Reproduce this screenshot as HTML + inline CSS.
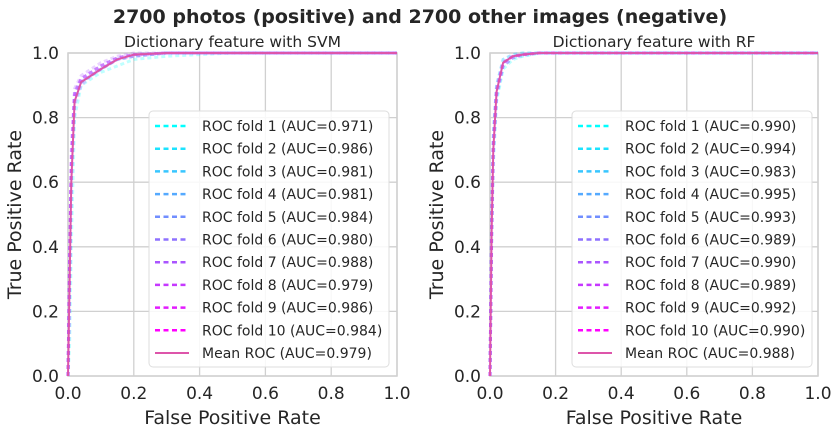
<!DOCTYPE html>
<html><head><meta charset="utf-8"><style>
body{margin:0;background:#fff;font-family:"DejaVu Sans","Liberation Sans",sans-serif}
svg text{font-family:"DejaVu Sans","Liberation Sans",sans-serif;fill:#262626}
</style></head><body>
<svg id="c" width="839" height="435" xmlns="http://www.w3.org/2000/svg">
<rect width="839" height="435" fill="#fff"/>
<text x="420" y="23" text-anchor="middle" font-size="19" font-weight="bold">2700 photos (positive) and 2700 other images (negative)</text>
</svg>
<script>
const fpr = [0,0.005,0.01,0.02,0.04,0.07,0.1,0.15,0.2,0.3,0.5,1];
const svmMean = [0,0.3,0.6,0.85,0.91,0.93,0.95,0.98,0.995,1,1,1];
const svmFolds = [
 [0,0.1,0.4,0.8,0.9,0.92,0.94,0.96,0.98,0.99,1,1],
 [0,0.35,0.65,0.88,0.92,0.94,0.96,0.985,0.995,1,1,1],
 [0,0.3,0.6,0.86,0.91,0.93,0.95,0.98,0.99,1,1,1],
 [0,0.32,0.62,0.86,0.91,0.93,0.95,0.98,0.99,1,1,1],
 [0,0.35,0.65,0.87,0.92,0.94,0.96,0.985,0.995,1,1,1],
 [0,0.3,0.6,0.85,0.91,0.93,0.95,0.98,0.99,1,1,1],
 [0,0.4,0.7,0.89,0.93,0.95,0.97,0.99,1,1,1,1],
 [0,0.3,0.6,0.84,0.9,0.93,0.95,0.98,0.99,1,1,1],
 [0,0.38,0.68,0.88,0.92,0.94,0.96,0.985,0.995,1,1,1],
 [0,0.35,0.65,0.87,0.92,0.94,0.96,0.985,0.995,1,1,1]];
const svmAuc = ["0.971","0.986","0.981","0.981","0.984","0.980","0.988","0.979","0.986","0.984"];
const svmMeanAuc = "0.979";
const rfMean = [0,0.45,0.7,0.88,0.97,0.99,0.995,1,1,1,1,1];
const rfFolds = [
 [0,0.4,0.65,0.85,0.95,0.98,0.99,1,1,1,1,1],
 [0,0.5,0.75,0.9,0.98,0.995,1,1,1,1,1,1],
 [0,0.42,0.68,0.86,0.96,0.985,0.99,1,1,1,1,1],
 [0,0.5,0.75,0.9,0.98,0.995,1,1,1,1,1,1],
 [0,0.48,0.73,0.89,0.97,0.99,0.995,1,1,1,1,1],
 [0,0.44,0.7,0.87,0.96,0.985,0.995,1,1,1,1,1],
 [0,0.45,0.7,0.88,0.97,0.99,0.995,1,1,1,1,1],
 [0,0.44,0.7,0.87,0.96,0.985,0.995,1,1,1,1,1],
 [0,0.47,0.72,0.89,0.97,0.99,0.995,1,1,1,1,1],
 [0,0.45,0.7,0.88,0.97,0.99,0.995,1,1,1,1,1]];
const rfAuc = ["0.990","0.994","0.983","0.995","0.993","0.989","0.990","0.989","0.992","0.990"];
const rfMeanAuc = "0.988";
const ticks = [0,0.2,0.4,0.6,0.8,1.0];
const tickLabels = ["0.0","0.2","0.4","0.6","0.8","1.0"];

const svg=document.getElementById('c');
const NS='http://www.w3.org/2000/svg';
function mk(t,a,p){const e=document.createElementNS(NS,t);for(const k in a)e.setAttribute(k,a[k]);(p||svg).appendChild(e);return e;}
function col(i){const t=i/9;return `rgb(${Math.round(255*t)},${Math.round(255*(1-t))},255)`;}
function panel(x0,x1,title,folds,mean,aucs,meanAuc,lx,name){
 const y0=53,y1=376;
 const sx=v=>x0+v*(x1-x0), sy=v=>y1-v*(y1-y0);
 const g=mk('g',{});
 
 
 ticks.forEach((t,i)=>{
  const gx=mk('line',{x1:sx(t),x2:sx(t),y1:y0,y2:y1,stroke:'#d0d0d0','stroke-width':1.3},g);
  
  const gy=mk('line',{x1:x0,x2:x1,y1:sy(t),y2:sy(t),stroke:'#d0d0d0','stroke-width':1.3},g);
  
  const tx=mk('text',{x:sx(t),y:y1+23,'text-anchor':'middle','font-size':17},g);tx.textContent=tickLabels[i];
  
  const ty=mk('text',{x:x0-9,y:sy(t)+6,'text-anchor':'end','font-size':17},g);ty.textContent=tickLabels[i];
  
 });
 const fr=mk('rect',{x:x0,y:y0,width:x1-x0,height:y1-y0,fill:'none',stroke:'#d0d0d0','stroke-width':1.5},g);
 
 folds.forEach((f,i)=>{
  const p=mk('polyline',{points:fpr.map((v,j)=>sx(v)+','+sy(f[j])).join(' '),fill:'none',stroke:col(i),'stroke-width':3,'stroke-dasharray':'4 3',opacity:0.25},g);
  
 });
 const m=mk('polyline',{points:fpr.map((v,j)=>sx(v)+','+sy(mean[j])).join(' '),fill:'none',stroke:'#dd55aa','stroke-width':2},g);
 
 const tt=mk('text',{x:(x0+x1)/2,y:47,'text-anchor':'middle','font-size':15.5},g);tt.textContent=title;
 
 const xl=mk('text',{x:(x0+x1)/2,y:424,'text-anchor':'middle','font-size':19},g);xl.textContent='False Positive Rate';
 
 const yl=mk('text',{x:0,y:0,'text-anchor':'middle','font-size':19,transform:`translate(${x0-47},${(y0+y1)/2}) rotate(-90)`},g);yl.textContent='True Positive Rate';
 
 const lg=mk('g',{},g);
 
 mk('rect',{x:lx,y:111,width:240,height:256,rx:4,fill:'#fff','fill-opacity':0.85,stroke:'#ddd'},lg);
 for(let i=0;i<11;i++){
  const yy=126+i*22.7;
  const e=mk('g',{},lg);
  
  if(i<10) mk('line',{x1:lx+6,x2:lx+40,y1:yy,y2:yy,stroke:col(i),'stroke-width':2.5,'stroke-dasharray':'5 3.5'},e);
  else mk('line',{x1:lx+6,x2:lx+40,y1:yy,y2:yy,stroke:'#dd55aa','stroke-width':2},e);
  const t=mk('text',{x:lx+53,y:yy+5,'font-size':14},e);
  t.textContent=i<10?`ROC fold ${i+1} (AUC=${aucs[i]})`:`Mean ROC (AUC=${meanAuc})`;
 }
}
panel(68,397,'Dictionary feature with SVM',svmFolds,svmMean,svmAuc,svmMeanAuc,149,'svm-panel');
panel(490,818,'Dictionary feature with RF',rfFolds,rfMean,rfAuc,rfMeanAuc,572,'rf-panel');
</script>
</body></html>
